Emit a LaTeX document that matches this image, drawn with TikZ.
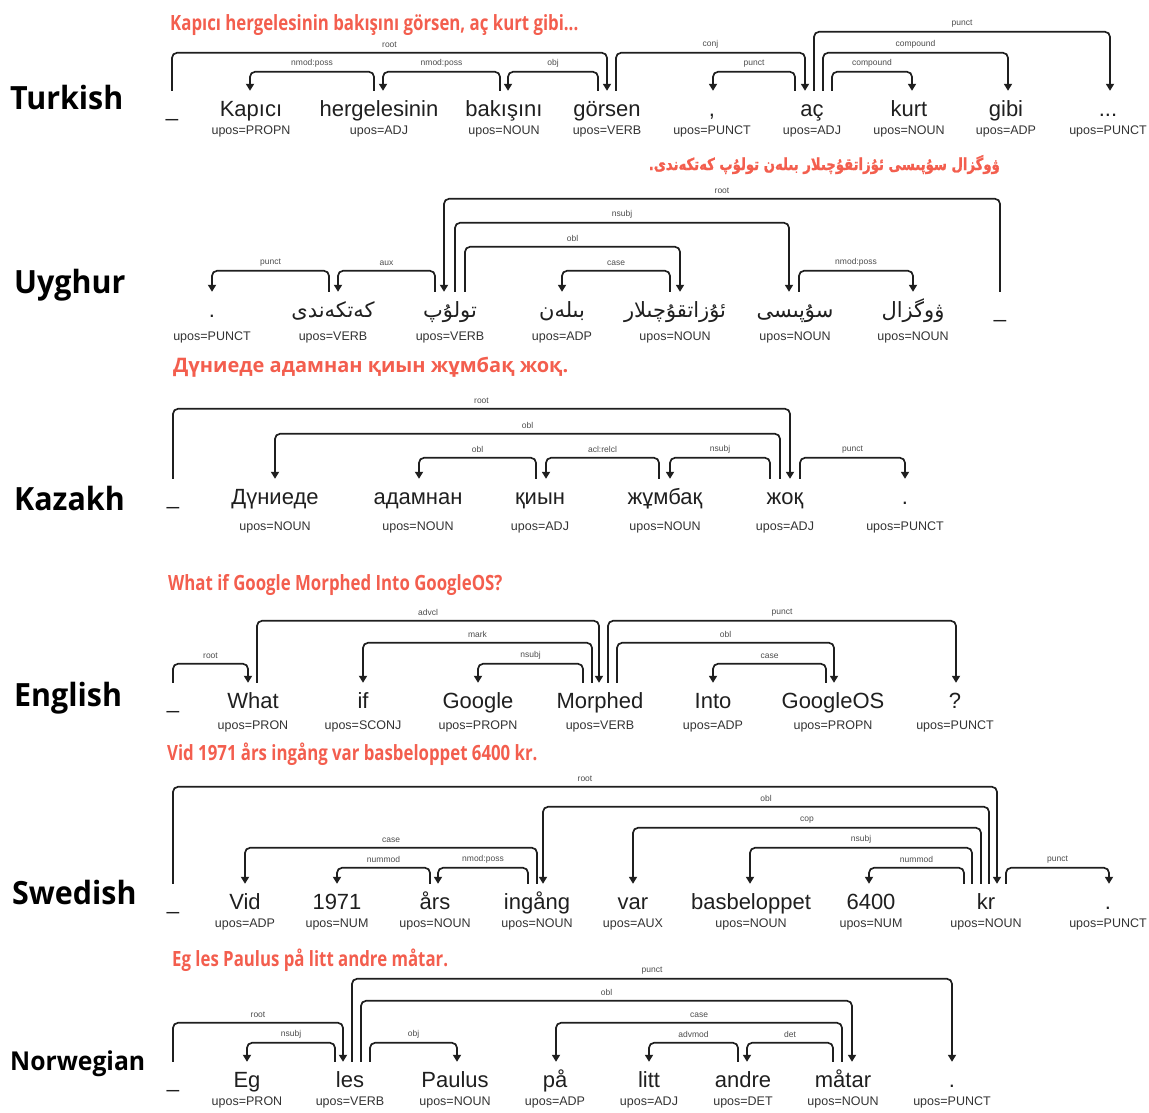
\documentclass[tikz,border=0pt]{standalone}
\usepackage{fontspec}
\setmainfont{Liberation Sans}
\newfontfamily\headfont[FakeStretch=0.8]{Open Sans}
\newfontfamily\cyrheadfont{Open Sans}
\newfontfamily\langfont[FakeStretch=0.95]{Open Sans}
\newfontfamily\uyfont[Script=Arabic]{DejaVu Sans}
\newfontfamily\uyheadfont[Script=Arabic, FakeStretch=0.8, BoldFeatures={FakeBold=1.2}]{DejaVu Sans}
\usepackage{tikz}
\usetikzlibrary{arrows.meta}
\definecolor{titlered}{RGB}{243,94,78}
\TeXXeTstate=1
\newcommand{\dep}[6]{%
  \draw[deparc] ([xshift=#2pt]#1.north) -- ++(0,#5) -| node[deplbl, pos=0.25] {#6} ([xshift=#4pt]#3.north);}

\begin{document}
\begin{tikzpicture}[x=1pt, y=1pt,
  word/.style={font=\fontsize{22}{24}\selectfont, text=black!88, inner sep=0pt, text height=25pt, text depth=6pt, anchor=base},
  uyword/.style={word, font=\uyfont\fontsize{21}{24}\selectfont},
  upos/.style={font=\fontsize{12.5}{14}\selectfont, text=black!80, inner sep=0pt, anchor=base},
  deparc/.style={line width=1.7pt, draw=black!88, rounded corners=5pt, -{Triangle[length=7pt, width=8pt]}},
  deplbl/.style={above=4pt, font=\fontsize{8.5}{10}\selectfont, text=black!70, inner sep=0pt},
  title/.style={font=\headfont\bfseries\fontsize{21}{24}\selectfont, text=titlered, inner sep=0pt, anchor=base west},
  lang/.style={font=\langfont\bfseries\fontsize{32}{36}\selectfont, text=black, inner sep=0pt, anchor=base west}]
\useasboundingbox (0,0) rectangle (1149,-1112);

% Turkish
\node[title] (trtitle) at (170,-30) {Kapıcı hergelesinin bakışını görsen, aç kurt gibi...};
\node[lang] (trlang) at (10,-109) {Turkish};
\node[word] (tr0) at (172,-116) {\_};
\foreach \n/\x/\w/\p in {1/251/Kapıcı/PROPN, 2/379/hergelesinin/ADJ, 3/504/bakışını/NOUN, 4/607/görsen/VERB, 5/712/{,}/PUNCT, 6/812/aç/ADJ, 7/909/kurt/NOUN, 8/1006/gibi/ADP} {
  \node[word] (tr\n) at (\x,-116) {\w};
  \node[upos] (tr\n-p) at (\x,-134) {upos=\p};
}
\node[word] (tr9) at (1108,-116) {...};
\node[upos] (tr9-p) at (1108,-134) {upos=PUNCT};
\dep{tr0}{0}{tr4}{0}{38}{root}
\dep{tr2}{-5}{tr1}{-1}{19}{nmod:poss}
\dep{tr3}{-4}{tr2}{4}{19}{nmod:poss}
\dep{tr4}{-9}{tr3}{4}{19}{obj}
\dep{tr4}{9}{tr6}{-7}{38}{conj}
\dep{tr6}{-17}{tr5}{1}{19}{punct}
\dep{tr6}{2}{tr9}{2}{59}{punct}
\dep{tr6}{11}{tr8}{2}{38}{compound}
\dep{tr6}{20}{tr7}{3}{19}{compound}

% Uyghur
\node[title, font=\uyheadfont\bfseries\fontsize{16.5}{20}\selectfont, anchor=base east] (uytitle) at (1000,-170) {\beginR ۋوگزال سۇپىسى ئۇزاتقۇچىلار بىلەن تولۇپ كەتكەندى.\endR};
\node[lang] (uylang) at (14,-293) {Uyghur};
\node[word] (uy0) at (212,-317) {.};
\foreach \n/\x/\w in {1/333/كەتكەندى, 2/450/تولۇپ, 3/562/بىلەن, 4/675/ئۇزاتقۇچىلار, 5/795/سۇپىسى, 6/913/ۋوگزال}
  \node[uyword] (uy\n) at (\x,-317) {\beginR\w\endR};
\node[word] (uy7) at (1000,-317) {\_};
\foreach \n/\x/\p in {0/212/PUNCT, 1/333/VERB, 2/450/VERB, 3/562/ADP, 4/675/NOUN, 5/795/NOUN, 6/913/NOUN}
  \node[upos] (uy\n-p) at (\x,-340) {upos=\p};
\dep{uy1}{-4}{uy0}{0}{21}{punct}
\dep{uy2}{-15}{uy1}{5}{21}{aux}
\dep{uy7}{0}{uy2}{-6}{93}{root}
\dep{uy2}{5}{uy5}{-6}{69}{nsubj}
\dep{uy2}{15}{uy4}{5}{45}{obl}
\dep{uy4}{-5}{uy3}{0}{21}{case}
\dep{uy5}{4}{uy6}{0}{21}{nmod:poss}

% Kazakh
\node[title, font=\cyrheadfont\bfseries\fontsize{20}{24}\selectfont] (kztitle) at (173,-372) {Дүниеде адамнан қиын жұмбақ жоқ.};
\node[lang] (kzlang) at (14,-510) {Kazakh};
\node[word] (kz0) at (173,-504) {\_};
\foreach \n/\x/\w/\p in {1/275/Дүниеде/NOUN, 2/418/адамнан/NOUN, 3/540/қиын/ADJ, 4/665/жұмбақ/NOUN, 5/785/жоқ/ADJ, 6/905/./PUNCT} {
  \node[word] (kz\n) at (\x,-504) {\w};
  \node[upos] (kz\n-p) at (\x,-530) {upos=\p};
}
\dep{kz0}{0}{kz5}{5}{70}{root}
\dep{kz5}{-5}{kz1}{0}{45}{obl}
\dep{kz3}{-4}{kz2}{1}{21}{obl}
\dep{kz4}{-6}{kz3}{6}{21}{acl:relcl}
\dep{kz5}{-15}{kz4}{5}{21}{nsubj}
\dep{kz5}{15}{kz6}{0}{21}{punct}

% English
\node[title] (entitle) at (168,-590) {What if Google Morphed Into GoogleOS?};
\node[lang] (enlang) at (14,-706) {English};
\node[word] (en0) at (173,-708) {\_};
\foreach \n/\x/\w/\p in {1/253/What/PRON, 2/363/if/SCONJ, 3/478/Google/PROPN, 4/600/Morphed/VERB, 5/713/Into/ADP, 6/833/GoogleOS/PROPN, 7/955/?/PUNCT} {
  \node[word] (en\n) at (\x,-708) {\w};
  \node[upos] (en\n-p) at (\x,-729) {upos=\p};
}
\dep{en0}{0}{en1}{-5}{19}{root}
\dep{en1}{4}{en4}{-1}{62}{advcl}
\dep{en4}{-8}{en2}{0}{40}{mark}
\dep{en4}{-17}{en3}{0}{19}{nsubj}
\dep{en4}{8}{en7}{1}{62}{punct}
\dep{en4}{17}{en6}{1}{40}{obl}
\dep{en6}{-7}{en5}{0}{19}{case}

% Swedish
\node[title] (swtitle) at (167,-760) {Vid 1971 års ingång var basbeloppet 6400 kr.};
\node[lang] (swlang) at (12,-904) {Swedish};
\node[word] (sw0) at (173,-909) {\_};
\foreach \n/\x/\w/\p in {1/245/Vid/ADP, 2/337/1971/NUM, 3/435/års/NOUN, 4/537/ingång/NOUN, 5/633/var/AUX, 6/751/basbeloppet/NOUN, 7/871/6400/NUM, 8/986/kr/NOUN, 9/1108/./PUNCT} {
  \node[word] (sw\n) at (\x,-909) {\w};
  \node[upos] (sw\n-p) at (\x,-927) {upos=\p};
}
\dep{sw0}{0}{sw8}{11}{97}{root}
\dep{sw8}{3}{sw4}{6}{77}{obl}
\dep{sw8}{-5}{sw5}{0}{56}{cop}
\dep{sw8}{-14}{sw6}{-1}{36}{nsubj}
\dep{sw8}{-22}{sw7}{-2}{16}{nummod}
\dep{sw8}{20}{sw9}{1}{16}{punct}
\dep{sw4}{0}{sw1}{0}{36}{case}
\dep{sw3}{-5}{sw2}{0}{16}{nummod}
\dep{sw4}{-9}{sw3}{3}{16}{nmod:poss}

% Norwegian
\node[title] (notitle) at (172,-966) {Eg les Paulus på litt andre måtar.};
\node[lang, font=\langfont\bfseries\fontsize{26}{30}\selectfont] (nolang) at (10,-1070) {Norwegian};
\node[word] (no0) at (173,-1087) {\_};
\foreach \n/\x/\w/\p in {1/247/Eg/PRON, 2/350/les/VERB, 3/455/Paulus/NOUN, 4/555/på/ADP, 5/649/litt/ADJ, 6/743/andre/DET, 7/843/måtar/NOUN, 8/952/./PUNCT} {
  \node[word] (no\n) at (\x,-1087) {\w};
  \node[upos] (no\n-p) at (\x,-1105) {upos=\p};
}
\dep{no0}{0}{no2}{-7}{39}{root}
\dep{no2}{-15}{no1}{0}{19}{nsubj}
\dep{no2}{2}{no8}{0}{83}{punct}
\dep{no2}{11}{no7}{9}{61}{obl}
\dep{no2}{20}{no3}{2}{19}{obj}
\dep{no7}{-1}{no4}{1}{39}{case}
\dep{no6}{-5}{no5}{0}{19}{advmod}
\dep{no7}{-10}{no6}{4}{19}{det}
\end{tikzpicture}
\end{document}
